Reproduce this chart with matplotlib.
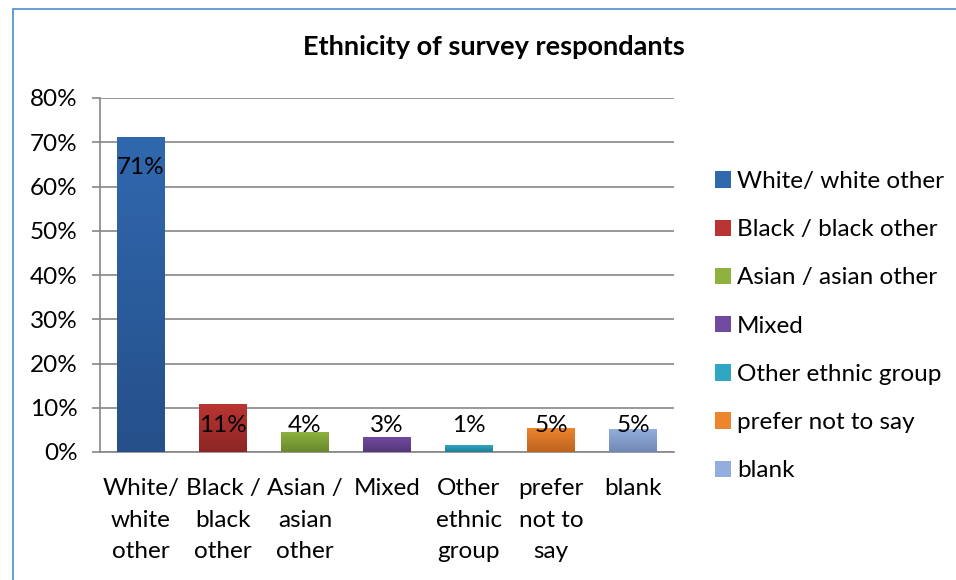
import matplotlib
matplotlib.use("Agg")
import matplotlib.pyplot as plt
import numpy as np
from matplotlib.patches import Patch, Rectangle
from matplotlib.colors import LinearSegmentedColormap

categories = ["White/ white other", "Black / black other", "Asian / asian other",
              "Mixed", "Other ethnic group", "prefer not to say", "blank"]
tick_labels = ["White/\nwhite\nother", "Black /\nblack\nother", "Asian /\nasian\nother",
               "Mixed", "Other\nethnic\ngroup", "prefer\nnot to\nsay", "blank"]
values = [71.0, 10.8, 4.3, 3.2, 1.4, 5.4, 5.0]
value_labels = ["71%", "11%", "4%", "3%", "1%", "5%", "5%"]

# top / bottom colours of each bar's gradient
top_colors = ["#3068AE", "#BA3532", "#8DB23F", "#7049A0", "#2FA6C4", "#EC852C", "#93AEDC"]
bot_colors = ["#25508A", "#8C2624", "#6A882D", "#573878", "#217E95", "#BE6320", "#7088B4"]

plt.rcParams["font.family"] = ["Lato", "DejaVu Sans"]
fs = 17.5

fig = plt.figure(figsize=(9.56, 5.8), dpi=100)
fig.patches.append(Rectangle((13 / 956, -0.1), 1.2, 1.1 - 9 / 580, transform=fig.transFigure,
                             fill=False, edgecolor="#4A8FD0", linewidth=1.2))

ax = fig.add_axes([100 / 956, 128 / 580, 574 / 956, 354 / 580])
x = np.arange(len(categories))
width = 0.58

bars = ax.bar(x, values, width=width, color=top_colors, zorder=2)
for b, c0, c1 in zip(bars, top_colors, bot_colors):
    cmap = LinearSegmentedColormap.from_list("g", [c1, c0])
    x0, y0 = b.get_x(), b.get_y()
    ax.imshow(np.linspace(0, 1, 64).reshape(-1, 1), cmap=cmap, origin="lower", aspect="auto",
              extent=(x0, x0 + b.get_width(), y0, y0 + b.get_height()), zorder=3)

for xi, v, lab in zip(x, values, value_labels):
    ax.text(xi, max(v - 6.8, 6.0), lab, ha="center", va="center", fontsize=fs, color="black", zorder=4)

ax.set_xlim(-0.5, len(categories) - 0.5)
ax.set_ylim(0, 80)
ax.set_yticks(np.arange(0, 81, 10))
ax.set_yticklabels([f"{t}%" for t in range(0, 81, 10)], fontsize=fs)
ax.set_xticks(x)
ax.set_xticklabels(tick_labels, fontsize=fs, linespacing=1.6)
ax.tick_params(axis="x", length=0, pad=19)
ax.tick_params(axis="y", length=6, width=1.2, color="#868686", pad=10)
ax.yaxis.grid(True, color="#868686", linewidth=1.2, zorder=0)
ax.set_axisbelow(True)
for s in ["top", "right"]:
    ax.spines[s].set_visible(False)
for s in ["left", "bottom"]:
    ax.spines[s].set_color("#868686")
    ax.spines[s].set_linewidth(1.2)

handles = [Patch(facecolor=c) for c in top_colors]
fig.legend(handles, categories, loc="upper left", bbox_to_anchor=(715 / 956, 1 - 171 / 580),
           frameon=False, fontsize=fs, handlelength=0.66, handleheight=0.66,
           handletextpad=0.25, labelspacing=1.12, borderpad=0, borderaxespad=0)

fig.text(494 / 956, 1 - 47 / 580, "Ethnicity of survey respondants", ha="center", va="center",
         fontsize=19.5, fontweight="bold")

fig.savefig("out.png", dpi=100)
